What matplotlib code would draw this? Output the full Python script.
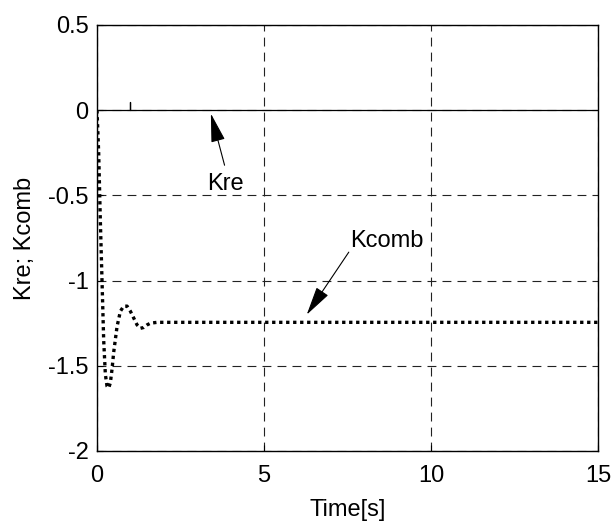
import matplotlib
matplotlib.use('Agg')
import matplotlib.pyplot as plt

# Kcomb response
t_comb = [0, 0.05, 0.1, 0.15, 0.2, 0.25, 0.3, 0.35, 0.4, 0.45, 0.5, 0.6, 0.7,
          0.8, 0.9, 1.0, 1.1, 1.2, 1.3, 1.4, 1.5, 1.6, 1.8, 2.0, 15]
k_comb = [0, -0.25, -0.65, -1.0, -1.35, -1.55, -1.62, -1.63, -1.6, -1.52, -1.42,
          -1.27, -1.18, -1.15, -1.15, -1.18, -1.22, -1.26, -1.28, -1.275, -1.26,
          -1.25, -1.245, -1.245, -1.245]

# Kre stays at zero (small blip near t=1)
t_re = [0, 0.99, 0.99, 1.0, 1.0, 15]
k_re = [0, 0, 0.05, 0.05, 0, 0]

xticks = [0, 5, 10, 15]
yticks = [-2, -1.5, -1, -0.5, 0, 0.5]
ytick_labels = ['-2', '-1.5', '-1', '-0.5', '0', '0.5']

plt.rcParams['font.family'] = ['Liberation Sans', 'DejaVu Sans']
fs = 17

fig = plt.figure(figsize=(6.12, 5.23), dpi=100)
ax = fig.add_axes([0.1585, 0.1377, 0.8185, 0.8145])

ax.plot(t_re, k_re, color='k', lw=0.9, solid_capstyle='butt')
ax.plot(t_comb, k_comb, color='k', lw=2.4, linestyle=(0, (1, 1.1)))

ax.set_xlim(0, 15)
ax.set_ylim(-2, 0.5)
ax.set_xticks(xticks)
ax.set_yticks(yticks)
ax.set_yticklabels(ytick_labels)
ax.tick_params(direction='in', length=4, labelsize=fs, width=0.8)
ax.tick_params(axis='x', pad=10)
ax.tick_params(axis='y', pad=6)
ax.grid(True, color='#222222', linestyle=(0, (8, 5.5)), lw=0.8)
for s in ax.spines.values():
    s.set_linewidth(1.0)

ax.set_xlabel('Time[s]', fontsize=fs, labelpad=9)
ax.set_ylabel('Kre; Kcomb', fontsize=fs, labelpad=9)

arrow = dict(arrowstyle='-|>,head_length=0.9,head_width=0.22', color='k',
             lw=0.8, mutation_scale=20, shrinkA=0, shrinkB=0)
ax.annotate('', xy=(3.41, -0.02), xytext=(3.82, -0.323), arrowprops=arrow)
ax.annotate('', xy=(6.28, -1.2), xytext=(7.54, -0.833), arrowprops=arrow)
ax.text(3.86, -0.469, 'Kre', fontsize=fs, ha='center', va='baseline')
ax.text(8.68, -0.804, 'Kcomb', fontsize=fs, ha='center', va='baseline')

fig.savefig('out.png', dpi=100)
